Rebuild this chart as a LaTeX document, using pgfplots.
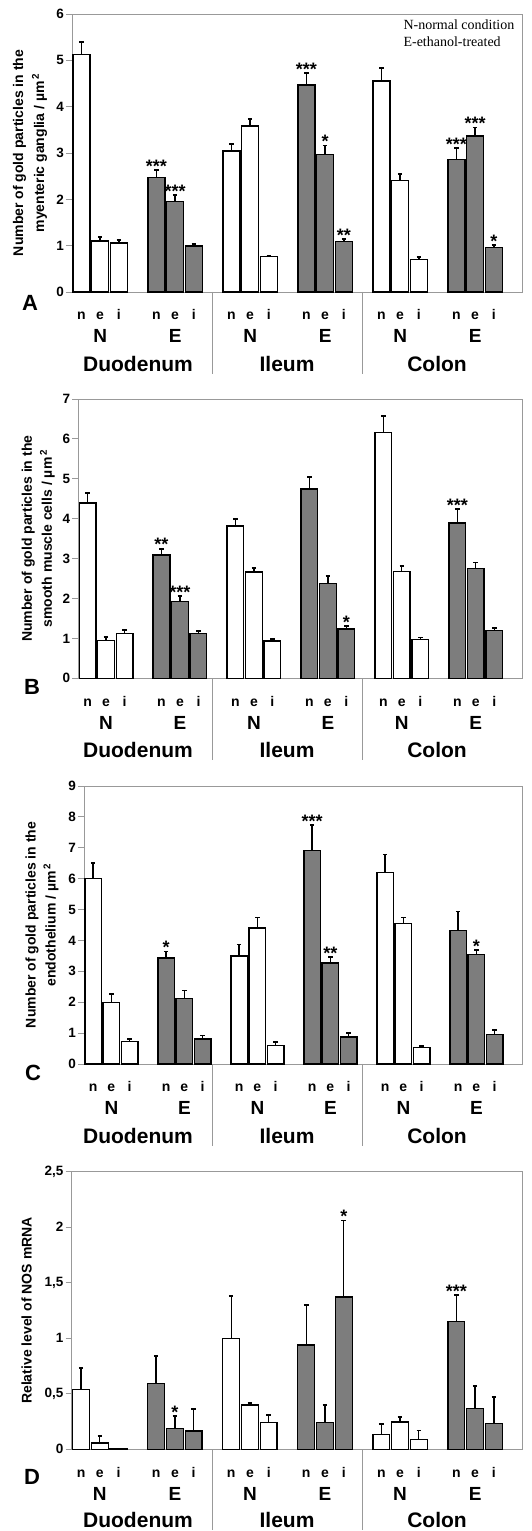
\documentclass[border=0pt]{standalone}
\usepackage{pgfplots}
\pgfplotsset{compat=1.18}
\usepackage{pgfplotstable}
\usepackage{fontspec}
\setmainfont{Liberation Sans}
\newfontfamily\seriffont{Liberation Serif}
\definecolor{barg}{HTML}{7D7D7D}
\definecolor{axg}{HTML}{999999}

% ---------- Panel A ----------
\pgfplotstableread{
x y e
0.5 5.13 0.27
1.5 1.10 0.08
2.5 1.06 0.06
8.5 3.04 0.15
9.5 3.58 0.16
10.5 0.76 0.02
16.5 4.55 0.28
17.5 2.40 0.15
18.5 0.70 0.05
}\Aw
\pgfplotstableread{
x y e
4.5 2.47 0.16
5.5 1.95 0.14
6.5 0.99 0.05
12.5 4.47 0.25
13.5 2.97 0.19
14.5 1.09 0.06
20.5 2.86 0.24
21.5 3.37 0.18
22.5 0.96 0.05
}\Ag
\pgfplotstableread{
x y s
4.5 2.63 ***
5.5 2.09 ***
12.5 4.72 ***
13.5 3.16 *
14.5 1.15 **
20.5 3.10 ***
21.5 3.55 ***
22.5 1.01 *
}\As
% ---------- Panel B ----------
\pgfplotstableread{
x y e
0.5 4.39 0.26
1.5 0.95 0.09
2.5 1.13 0.09
8.5 3.82 0.17
9.5 2.66 0.11
10.5 0.93 0.06
16.5 6.16 0.41
17.5 2.67 0.15
18.5 0.97 0.05
}\Bw
\pgfplotstableread{
x y e
4.5 3.09 0.16
5.5 1.93 0.13
6.5 1.13 0.06
12.5 4.74 0.31
13.5 2.38 0.18
14.5 1.24 0.07
20.5 3.89 0.35
21.5 2.75 0.15
22.5 1.20 0.07
}\Bg
\pgfplotstableread{
x y s
4.5 3.25 **
5.5 2.06 ***
14.5 1.31 *
20.5 4.24 ***
}\Bs
% ---------- Panel C ----------
\pgfplotstableread{
x y e
0.5 6.00 0.51
1.5 1.99 0.27
2.5 0.73 0.07
8.5 3.49 0.38
9.5 4.40 0.34
10.5 0.59 0.12
16.5 6.19 0.59
17.5 4.55 0.19
18.5 0.54 0.04
}\Cw
\pgfplotstableread{
x y e
4.5 3.43 0.21
5.5 2.12 0.26
6.5 0.81 0.11
12.5 6.92 0.82
13.5 3.27 0.19
14.5 0.88 0.12
20.5 4.32 0.62
21.5 3.55 0.14
22.5 0.95 0.14
}\Cg
\pgfplotstableread{
x y s
4.5 3.64 *
12.5 7.74 ***
13.5 3.46 **
21.5 3.69 *
}\Cs
% ---------- Panel D ----------
\pgfplotstableread{
x y e
0.5 0.54 0.19
1.5 0.057 0.063
2.5 0.006 0
8.5 1.00 0.38
9.5 0.40 0.02
10.5 0.24 0.07
16.5 0.135 0.095
17.5 0.246 0.044
18.5 0.09 0.08
}\Dw
\pgfplotstableread{
x y e
4.5 0.59 0.25
5.5 0.19 0.11
6.5 0.165 0.195
12.5 0.94 0.36
13.5 0.24 0.16
14.5 1.37 0.69
20.5 1.15 0.24
21.5 0.37 0.20
22.5 0.23 0.24
}\Dg
\pgfplotstableread{
x y s
5.5 0.30 *
14.5 2.06 *
20.5 1.39 ***
}\Ds

\pgfplotsset{
  panel/.style={
    scale only axis, xmin=0, xmax=24, ymin=0,
    axis line style={draw=axg, line width=0.9pt},
    ytick pos=left, tick align=outside,
    y tick style={draw=axg, line width=0.9pt}, major tick length=6pt,
    x tick style={draw=none},
    xtick={0.5,1.5,2.5,4.5,5.5,6.5,8.5,9.5,10.5,12.5,13.5,14.5,16.5,17.5,18.5,20.5,21.5,22.5},
    xticklabels={n,e,i,n,e,i,n,e,i,n,e,i,n,e,i,n,e,i},
    xticklabel style={font=\bfseries\fontsize{14}{14}\selectfont, anchor=base, yshift=-22pt},
    extra x ticks={1.5,5.5,9.5,13.5,17.5,21.5},
    extra x tick labels={N,E,N,E,N,E},
    extra x tick style={xticklabel style={font=\bfseries\fontsize{19}{19}\selectfont, yshift=-23pt}},
    yticklabel style={font=\bfseries\fontsize{13.5}{13.5}\selectfont, inner sep=2pt},
    /pgf/number format/assume math mode=true,
    ylabel style={anchor=center, align=center, font=\bfseries\fontsize{14}{21}\selectfont},
    clip=false,
  },
  wbar/.style={ybar, bar width=0.9, bar shift=0pt, fill=white, draw=black, line width=1.4pt,
    error bars/y dir=plus, error bars/y explicit,
    error bars/error bar style={line width=1.3pt, black},
    error bars/error mark options={rotate=90, mark size=2.3pt, line width=1.8pt, black}},
  gbar/.style={wbar, fill=barg},
  stars/.style={draw=none, nodes near coords, point meta=explicit symbolic,
    every node near coord/.style={anchor=base, yshift=-2.3pt, inner sep=0pt, font=\bfseries\fontsize{18}{18}\selectfont}},
}

\newcommand{\regions}[2]{% #1 = axis bottom Y, #2 = label baseline Y
  \draw[axg, line width=0.9pt] (212pt,#1) -- (212pt,#2-2pt);
  \draw[axg, line width=0.9pt] (362pt,#1) -- (362pt,#2-2pt);
  \node[anchor=base, font=\bfseries\fontsize{21}{21}\selectfont] at (138pt,#2) {Duodenum};
  \node[anchor=base, font=\bfseries\fontsize{21}{21}\selectfont] at (287pt,#2) {Ileum};
  \node[anchor=base, font=\bfseries\fontsize{21}{21}\selectfont] at (437pt,#2) {Colon};
}

\begin{document}
\begin{tikzpicture}
\useasboundingbox (0pt,0pt) rectangle (532pt,1531pt);

% ===== A =====
\begin{axis}[panel, at={(72pt,1239pt)}, anchor=south west, width=450pt, height=278pt,
  ymax=6, ytick={0,1,2,3,4,5,6},
  ylabel={Number of gold particles in the\\myenteric ganglia / µm\textsuperscript{\,2}},
  ylabel style={at={(axis description cs:-0.0933,0.5)}}]
\addplot[wbar] table[x=x,y=y,y error=e] {\Aw};
\addplot[gbar] table[x=x,y=y,y error=e] {\Ag};
\addplot[stars] table[x=x,y=y,meta=s] {\As};
\end{axis}
\node[anchor=base west, font=\seriffont\fontsize{14}{14}\selectfont] at (400pt,1501pt) {N-normal condition};
\node[anchor=base west, font=\seriffont\fontsize{14}{14}\selectfont] at (400pt,1484pt) {E-ethanol-treated};
\node[font=\bfseries\fontsize{22}{22}\selectfont] at (30pt,1228pt) {A};
\regions{1239pt}{1159pt}

% ===== B =====
\begin{axis}[panel, at={(78.3pt,852.7pt)}, anchor=south west, width=443.7pt, height=279.3pt,
  ymax=7, ytick={0,1,2,3,4,5,6,7},
  ylabel={Number of gold particles in the\\smooth muscle cells / µm\textsuperscript{\,2}},
  ylabel style={at={(axis description cs:-0.090,0.5)}, font=\bfseries\fontsize{14}{20}\selectfont}]
\addplot[wbar] table[x=x,y=y,y error=e] {\Bw};
\addplot[gbar] table[x=x,y=y,y error=e] {\Bg};
\addplot[stars] table[x=x,y=y,meta=s] {\Bs};
\end{axis}
\node[font=\bfseries\fontsize{22}{22}\selectfont] at (32pt,844pt) {B};
\regions{852.7pt}{773pt}

% ===== C =====
\begin{axis}[panel, at={(84pt,467pt)}, anchor=south west, width=438pt, height=278pt,
  ymax=9, ytick={0,1,2,3,4,5,6,7,8,9},
  ylabel={Number of gold particles in the\\endothelium / µm\textsuperscript{\,2}},
  ylabel style={at={(axis description cs:-0.0959,0.5)}, font=\bfseries\fontsize{14}{20}\selectfont}]
\addplot[wbar] table[x=x,y=y,y error=e] {\Cw};
\addplot[gbar] table[x=x,y=y,y error=e] {\Cg};
\addplot[stars] table[x=x,y=y,meta=s] {\Cs};
\end{axis}
\node[font=\bfseries\fontsize{22}{22}\selectfont] at (33pt,458pt) {C};
\regions{467pt}{387pt}

% ===== D =====
\begin{axis}[panel, at={(71.7pt,81.7pt)}, anchor=south west, width=450.3pt, height=277.6pt,
  ymax=2.5, ytick={0,0.5,1,1.5,2,2.5}, /pgf/number format/use comma,
  ylabel={Relative level of NOS mRNA},
  ylabel style={at={(axis description cs:-0.10,0.5)}}]
\addplot[wbar] table[x=x,y=y,y error=e] {\Dw};
\addplot[gbar] table[x=x,y=y,y error=e] {\Dg};
\addplot[stars] table[x=x,y=y,meta=s] {\Ds};
\end{axis}
\node[font=\bfseries\fontsize{22}{22}\selectfont] at (32pt,54pt) {D};
\regions{81.7pt}{3pt}
\end{tikzpicture}
\end{document}
